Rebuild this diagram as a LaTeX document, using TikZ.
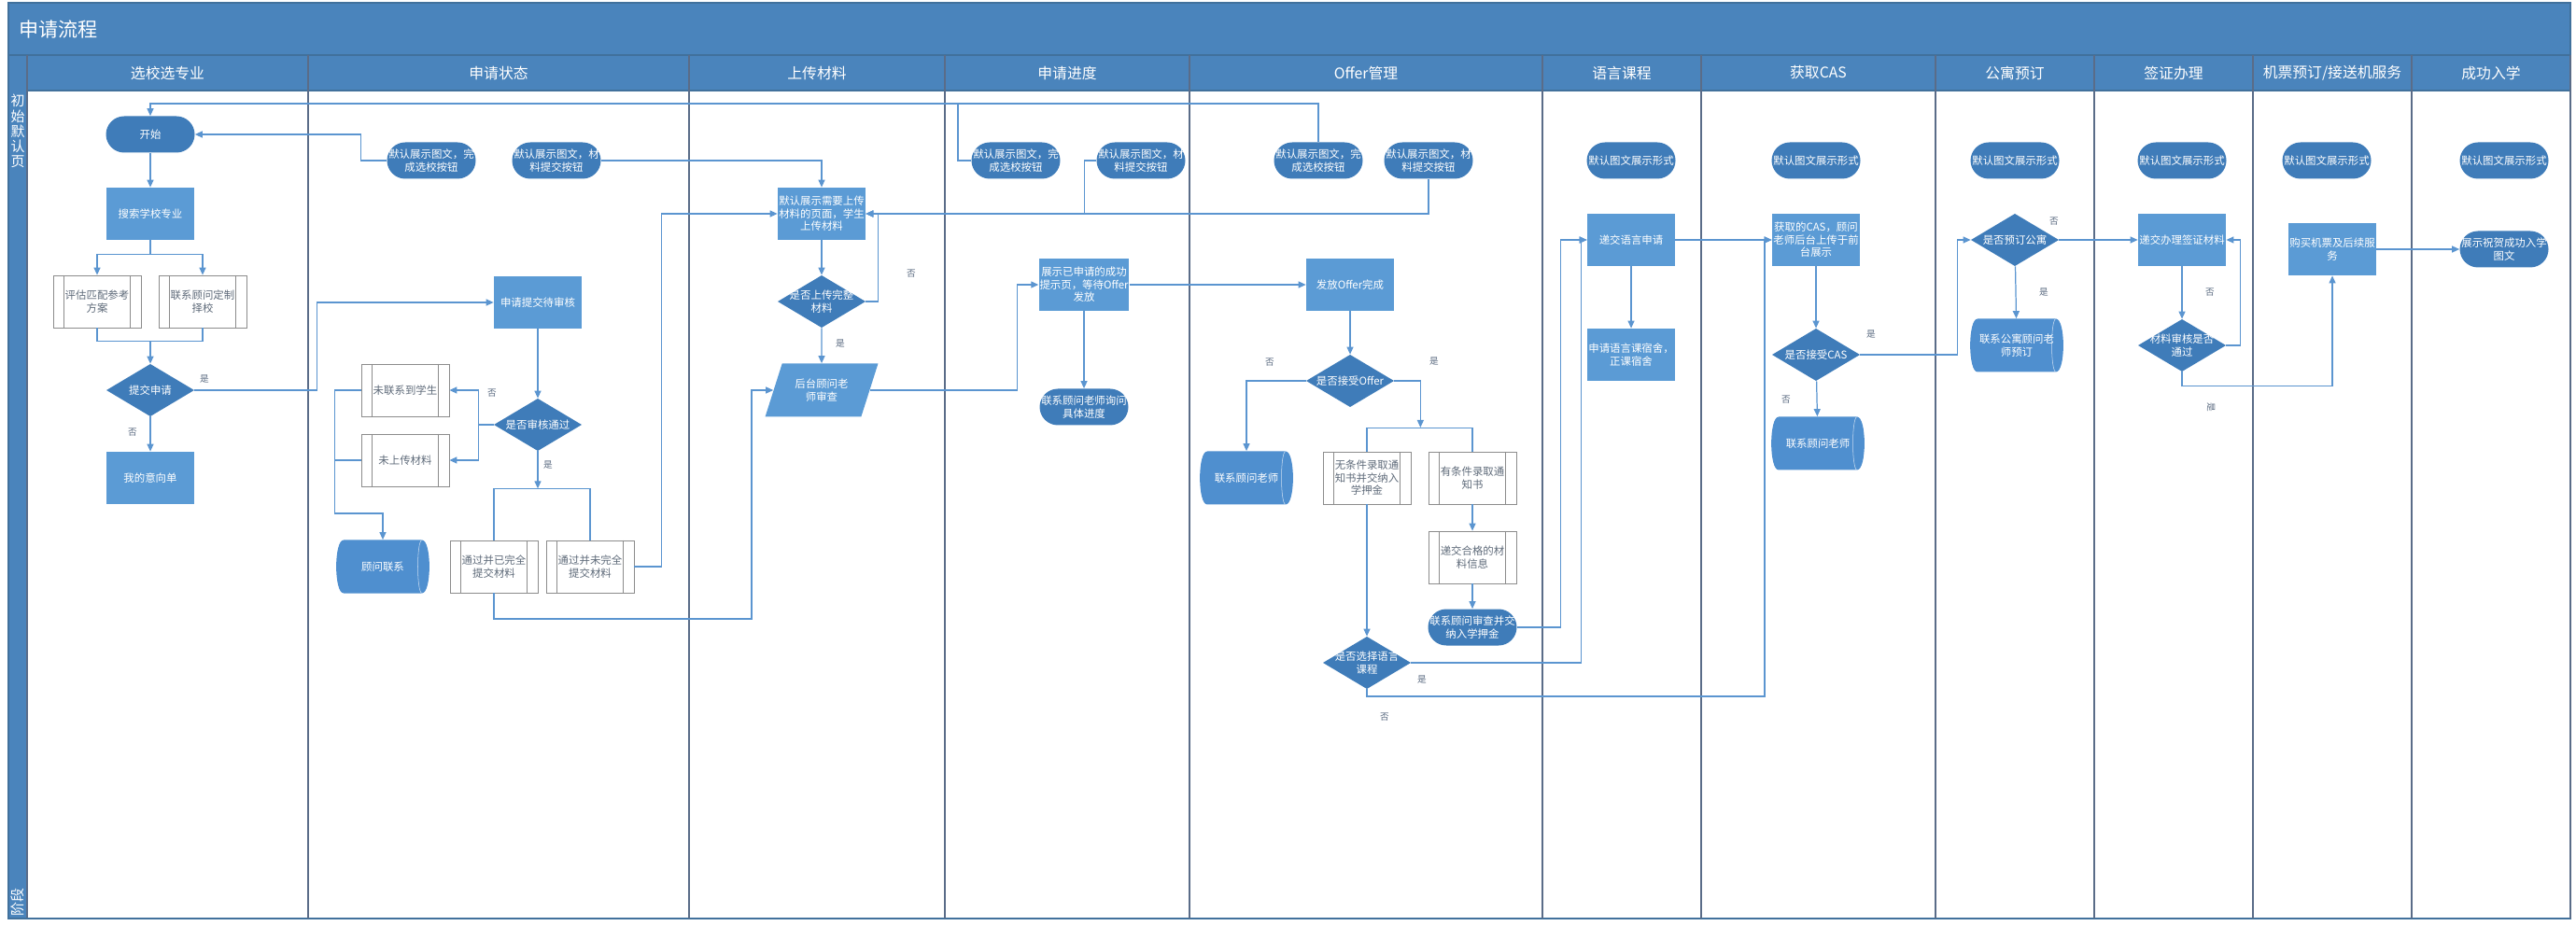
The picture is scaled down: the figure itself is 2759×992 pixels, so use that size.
\documentclass[tikz,border=0pt]{standalone}
\usepackage{fontspec}
\setmainfont{Noto Sans CJK SC}
\usetikzlibrary{shapes.geometric,arrows.meta}

\definecolor{bandblue}{HTML}{4A84BC}
\definecolor{frameblue}{HTML}{41719C}
\definecolor{laneline}{HTML}{5A6C88}
\definecolor{procblue}{HTML}{5B9BD5}
\definecolor{darkblue}{HTML}{3F7CB9}
\definecolor{cylblue}{HTML}{4F8FCF}
\definecolor{connblue}{HTML}{5B95D0}
\definecolor{subgray}{HTML}{8C8C8C}
\definecolor{subtext}{HTML}{5F6B7A}
\definecolor{labelgray}{HTML}{5A6A80}

\tikzset{
  nodebox/.style={minimum width=18.8mm, minimum height=11.2mm, inner sep=0.5pt, align=center,
    font=\fontsize{6.5}{7.7}\selectfont},
  proc/.style={nodebox, fill=procblue, text=white},
  term/.style={nodebox, minimum width=19mm, minimum height=7.8mm, rounded corners=3.9mm,
    fill=darkblue, text=white},
  dec/.style={nodebox, text=white, path picture={
    \fill[darkblue] (path picture bounding box.north) -- (path picture bounding box.east)
      -- (path picture bounding box.south) -- (path picture bounding box.west) -- cycle;}},
  sub/.style={nodebox, draw=subgray, fill=white, text=subtext, path picture={
    \draw[subgray] ([xshift=2.3mm]path picture bounding box.north west) -- ([xshift=2.3mm]path picture bounding box.south west);
    \draw[subgray] ([xshift=-2.3mm]path picture bounding box.north east) -- ([xshift=-2.3mm]path picture bounding box.south east);}},
  cyl/.style={nodebox, minimum width=20mm, minimum height=11.4mm, text=white, path picture={
    \fill[cylblue] ([xshift=1.6mm]path picture bounding box.north west) -- ([xshift=-1.6mm]path picture bounding box.north east)
      .. controls ([xshift=0.5mm]path picture bounding box.north east) and ([xshift=0.5mm]path picture bounding box.south east)
      .. ([xshift=-1.6mm]path picture bounding box.south east) -- ([xshift=1.6mm]path picture bounding box.south west)
      .. controls ([xshift=-0.5mm]path picture bounding box.south west) and ([xshift=-0.5mm]path picture bounding box.north west)
      .. cycle;
    \draw[white!70!cylblue, line width=0.3pt] ([xshift=-1.6mm]path picture bounding box.north east)
      .. controls ([xshift=-2.8mm]path picture bounding box.north east) and ([xshift=-2.8mm]path picture bounding box.south east)
      .. ([xshift=-1.6mm]path picture bounding box.south east);}},
  para/.style={nodebox, trapezium, trapezium left angle=64, trapezium right angle=116,
    trapezium stretches=true, minimum width=24.2mm, minimum height=11.4mm, fill=procblue, text=white},
  conn/.style={draw=connblue, line width=0.7pt, -{Triangle[length=1.6mm,width=1.4mm]}},
  wire/.style={draw=connblue, line width=0.7pt},
  yn/.style={text=labelgray, inner sep=0.5pt, font=\fontsize{5.5}{6}\selectfont}
}

\begin{document}
\begin{tikzpicture}[x=0.2mm,y=-0.2mm]
\useasboundingbox (0,0) rectangle (2759,992);

% frame, title and lanes
\fill[bandblue] (9,3) rectangle (2753,97);
\fill[bandblue] (9,59) rectangle (29,984);
\draw[frameblue,line width=0.8pt] (9,59) -- (2753,59) (29,97) -- (2753,97);
\draw[laneline,line width=0.8pt] (29,59) -- (29,984);
\draw[frameblue,line width=1pt] (9,3) rectangle (2753,984);
\node[anchor=west,text=white,font=\fontsize{12}{14}\selectfont] (title) at (14,31) {申请流程};
\node[anchor=north,text=white,inner sep=0,align=center,font=\fontsize{8.5}{9.2}\selectfont] (side1) at (19,101) {初\\始\\默\\认\\页};
\node[anchor=west,rotate=90,text=white,inner sep=0,font=\fontsize{8.5}{9}\selectfont] (side2) at (19,982) {阶段};

\foreach \xl/\xr/\lname in {29/330/选校选专业, 330/738/申请状态, 738/1012/上传材料, 1012/1274/申请进度,
    1274/1652/Offer管理, 1652/1822/语言课程, 1822/2073/获取CAS, 2073/2243/公寓预订,
    2243/2413/签证办理, 2413/2583/{机票预订/接送机服务}, 2583/2753/成功入学} {
  \draw[laneline,line width=0.8pt] (\xr,59) -- (\xr,984);
  \node[text=white,font=\fontsize{9}{11}\selectfont] (head\xl) at ({(\xl+\xr)/2},78) {\lname};
}

% lane 1
\node[term] (start) at (161,144) {开始};
\node[proc] (search) at (161,229) {搜索学校专业};
\node[sub] (eval) at (104,323) {评估匹配参考\\方案};
\node[sub] (adv) at (217,323) {联系顾问定制\\择校};
\node[dec] (submit) at (161,418) {提交申请};
\node[proc] (mine) at (161,512) {我的意向单};

% lane 2
\node[term] (sel2) at (462,172) {默认展示图文，完\\成选校按钮};
\node[term] (mat2) at (596,172) {默认展示图文，材\\料提交按钮};
\node[proc] (pend) at (576,324) {申请提交待审核};
\node[sub] (nocon) at (434,418) {未联系到学生};
\node[sub] (noup) at (434,493) {未上传材料};
\node[dec] (review) at (576,455) {是否审核通过};
\node[cyl] (contact) at (410,607) {顾问联系};
\node[sub] (done) at (529,607) {通过并已完全\\提交材料};
\node[sub] (part) at (632,607) {通过并未完全\\提交材料};

% lane 3
\node[proc] (up3) at (880,229) {默认展示需要上传\\材料的页面，学生\\上传材料};
\node[dec] (chk3) at (880,323) {是否上传完整\\材料};
\node[para] (audit) at (880,418) {后台顾问老\\师审查};

% lane 4
\node[term] (sel4) at (1088,172) {默认展示图文，完\\成选校按钮};
\node[term] (mat4) at (1222,172) {默认展示图文，材\\料提交按钮};
\node[proc] (wait4) at (1161,305) {展示已申请的成功\\提示页，等待Offer\\发放};
\node[term] (ask4) at (1161,436) {联系顾问老师询问\\具体进度};

% lane 5
\node[term] (sel5) at (1412,172) {默认展示图文，完\\成选校按钮};
\node[term] (mat5) at (1530,172) {默认展示图文，材\\料提交按钮};
\node[proc] (offer5) at (1446,305) {发放Offer完成};
\node[dec] (acc5) at (1446,408) {是否接受Offer};
\node[cyl] (call5) at (1335,512) {联系顾问老师};
\node[sub] (uncond) at (1464,512) {无条件录取通\\知书并交纳入\\学押金};
\node[sub] (cond) at (1577,512) {有条件录取通\\知书};
\node[sub] (mats) at (1577,597) {递交合格的材\\料信息};
\node[term] (rev5) at (1577,672) {联系顾问审查并交\\纳入学押金};
\node[dec] (lang5) at (1464,710) {是否选择语言\\课程};

% lane 6
\node[term] (show6) at (1747,172) {默认图文展示形式};
\node[proc] (apply6) at (1747,257) {递交语言申请};
\node[proc] (dorm6) at (1747,380) {申请语言课宿舍，\\正课宿舍};

% lane 7
\node[term] (show7) at (1945,172) {默认图文展示形式};
\node[proc] (cas7) at (1945,257) {获取的CAS，顾问\\老师后台上传于前\\台展示};
\node[dec] (acc7) at (1945,380) {是否接受CAS};
\node[cyl] (call7) at (1947,475) {联系顾问老师};

% lane 8
\node[term] (show8) at (2158,172) {默认图文展示形式};
\node[dec] (apt8) at (2158,257) {是否预订公寓};
\node[cyl] (aptcall) at (2160,370) {联系公寓顾问老\\师预订};

% lane 9
\node[term] (show9) at (2337,172) {默认图文展示形式};
\node[proc] (visa9) at (2337,257) {递交办理签证材料};
\node[dec] (vchk) at (2337,370) {材料审核是否\\通过};

% lane 10 and 11
\node[term] (show10) at (2492,172) {默认图文展示形式};
\node[proc] (fly) at (2498,267) {购买机票及后续服\\务};
\node[term] (show11) at (2682,172) {默认图文展示形式};
\node[term] (done11) at (2682,267) {展示祝贺成功入学\\图文};

% back to start
\draw[conn] (sel4.west) -| (1026,111) -| (start.north);
\draw[wire] (sel5.north) |- (1026,111);
\draw[conn] (sel2.west) -- ++(-28,0) |- (start.east);

% material buttons
\draw[conn] (mat2.east) -| (up3.north);
\draw[conn] (mat4.west) -- ++(-13,0) |- (up3.east);
\draw[conn] (mat5.south) |- (up3.east);

% lane 1
\draw[conn] (start) -- (search);
\draw[conn] (search.south) -- ++(0,15) -| (eval.north);
\draw[conn] (search.south) -- ++(0,15) -| (adv.north);
\draw[wire] (eval.south) -- ++(0,14) -| (adv.south);
\draw[conn] (161,366) -- (submit.north);
\draw[conn] (submit.east) -- ++(131,0) |- (pend.west);
\draw[conn] (submit) -- (mine);

% lane 2
\draw[conn] (pend) -- (review);
\draw[conn] (review.west) -- ++(-16,0) |- (nocon.east);
\draw[conn] (review.west) -- ++(-16,0) |- (noup.east);
\draw[conn] (nocon.west) -- ++(-28,0) -- ++(0,132) -| (contact.north);
\draw[wire] (noup.west) -- ++(-28,0);
\draw[conn] (review.south) -- ++(0,40);
\draw[wire] (done.north) -- ++(0,-55) -| (part.north);
\draw[conn] (done.south) |- (805,663) |- (audit.west);
\draw[conn] (part.east) -- ++(29,0) |- (up3.west);

% lane 3
\draw[conn] (up3) -- (chk3);
\draw[conn] (chk3.east) -- ++(13,0) |- (up3.east);
\draw[conn] (chk3) -- (audit);
\draw[conn] (audit.east) -- ++(158,0) |- (wait4.west);

% lane 4
\draw[conn] (wait4) -- (offer5);
\draw[conn] (wait4) -- (ask4);

% lane 5
\draw[conn] (offer5) -- (acc5);
\draw[conn] (acc5.east) -- ++(28,0) -- ++(0,50);
\draw[wire] (uncond.north) -- ++(0,-25) -| (cond.north);
\draw[conn] (acc5.west) -| (call5.north);
\draw[conn] (cond) -- (mats);
\draw[conn] (mats) -- (rev5);
\draw[conn] (uncond) -- (lang5);
\draw[conn] (rev5.east) -- ++(47,0) |- (apply6.west);
\draw[conn] (lang5.east) -- ++(182,0) |- (apply6.west);
\draw[conn] (lang5.south) |- (1890,746) |- (cas7.west);

% lane 6 and 7
\draw[conn] (apply6) -- (cas7);
\draw[conn] (apply6) -- (dorm6);
\draw[conn] (cas7) -- (acc7);
\draw[conn] (acc7) -- (call7);
\draw[conn] (acc7.east) -- ++(104,0) |- (apt8.west);

% lane 8 to 11
\draw[conn] (apt8) -- (visa9);
\draw[conn] (apt8) -- (aptcall);
\draw[conn] (visa9) -- (vchk);
\draw[conn] (vchk.east) -- ++(15,0) |- (visa9.east);
\draw[conn] (vchk.south) -- ++(0,15) -| (fly.south);
\draw[conn] (fly) -- (done11);

% yes / no
\node[yn] (y1) at (219,406) {是};
\node[yn] (n1) at (142,463) {否};
\node[yn] (n2) at (527,421) {否};
\node[yn] (y2) at (587,498) {是};
\node[yn] (n3) at (976,293) {否};
\node[yn] (y3) at (900,368) {是};
\node[yn] (n5a) at (1360,388) {否};
\node[yn] (y5a) at (1536,387) {是};
\node[yn] (y5b) at (1523,728) {是};
\node[yn] (n5b) at (1483,768) {否};
\node[yn] (y7) at (2004,358) {是};
\node[yn] (n7) at (1913,428) {否};
\node[yn] (n8) at (2200,237) {否};
\node[yn] (y8) at (2189,313) {是};
\node[yn] (n9) at (2367,313) {否};
\node[yn,rotate=-90] (y9) at (2368,436) {是};
\end{tikzpicture}
\end{document}
